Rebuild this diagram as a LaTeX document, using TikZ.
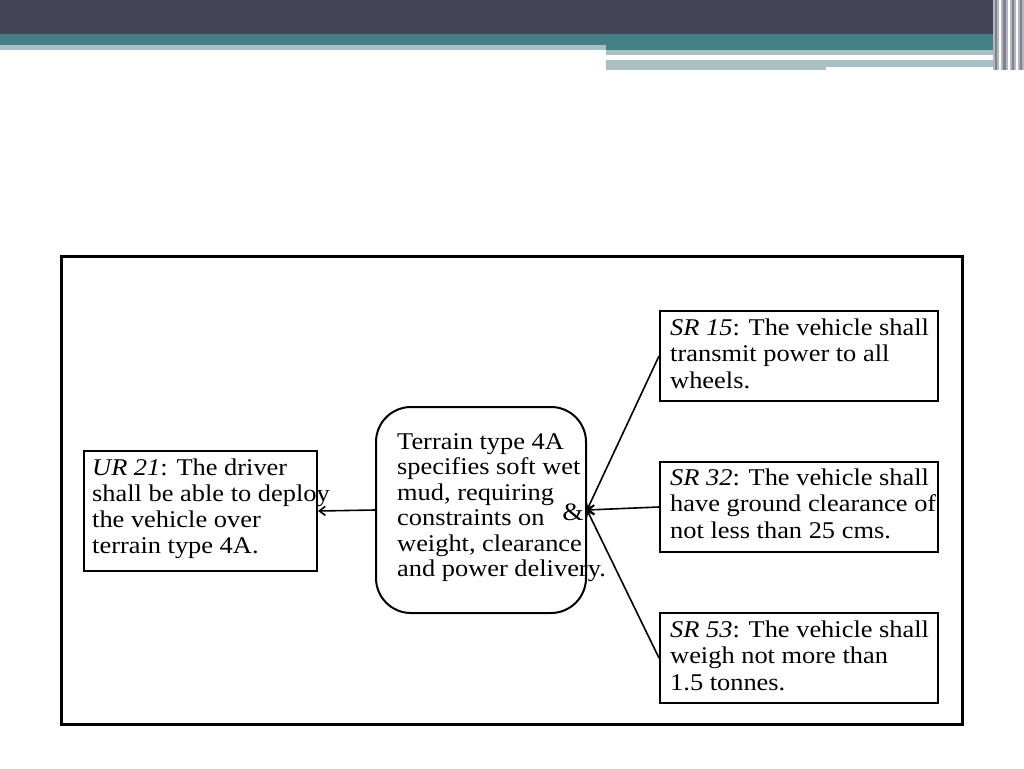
\documentclass[tikz,border=0pt]{standalone}
\usepackage{fontspec}
\newfontfamily\rf[FakeStretch=1.1]{Liberation Serif}
\usetikzlibrary{arrows.meta}
\definecolor{bandDark}{HTML}{434457}
\definecolor{bandTeal}{HTML}{437F85}
\definecolor{bandLight}{HTML}{A9C0C3}
\definecolor{stripeGray}{HTML}{B4B7C0}
\definecolor{stripeDark}{HTML}{7E8190}
\tikzset{
  box/.style={draw, line width=2pt, inner sep=0pt, anchor=north west},
  rbox/.style={draw, line width=2pt, inner sep=0pt, anchor=north west, rounded corners=35pt},
  tx/.style={anchor=base west, inner sep=0pt},
  link/.style={line width=1.6pt, -{Straight Barb[length=6pt,width=9pt]}},
}
\newcommand{\txa}{\rf\fontsize{24}{26}\selectfont}
\newcommand{\txb}{\rf\fontsize{24}{25.5}\selectfont}
\newcommand{\txc}{\rf\fontsize{24}{26.5}\selectfont}
\begin{document}
\begin{tikzpicture}[x=1pt,y=-1pt]
\useasboundingbox (0,0) rectangle (1024,768);
\fill[white] (0,0) rectangle (1024,768);
% banner
\fill[bandDark] (0,0) rectangle (1024,34);
\fill[bandTeal] (0,34) rectangle (1000,45);
\fill[bandLight] (0,45) rectangle (606,50);
\fill[bandTeal] (606,45) rectangle (1000,50.5);
\fill[bandLight] (606,50.5) rectangle (1000,55.5);
\fill[bandLight] (606,59.5) rectangle (826,70);
\fill[bandLight] (826,59.5) rectangle (1005,66.5);
\fill[stripeGray] (993,0) rectangle (1024,70);
\fill[stripeDark] (995,0) rectangle (997,70);
\fill[white] (999,0) rectangle (1001,70);
\fill[stripeDark] (1003,0) rectangle (1006,70);
\fill[white] (1008,0) rectangle (1010,70);
\fill[stripeDark] (1012,0) rectangle (1014,70);
\fill[white] (1016,0) rectangle (1018,70);
\fill[stripeDark] (1020,0) rectangle (1022,70);
% frame
\draw[line width=3pt] (61,256) rectangle (962,724);
% boxes
\node[box, minimum width=233pt, minimum height=120pt] (ur) at (83,450) {};
\node[rbox, minimum width=210pt, minimum height=206pt] (c) at (375,406) {};
\node[box, minimum width=278pt, minimum height=90pt] (sra) at (659,310) {};
\node[box, minimum width=278pt, minimum height=90pt] (srb) at (659,461) {};
\node[box, minimum width=278pt, minimum height=90pt] (src) at (659,612) {};
% texts
\node[tx] (urt) at (92,475) {\txa\parbox[t]{300pt}{\raggedright\textit{UR 21}: The driver\\shall be able to deploy\\the vehicle over\\terrain type 4A.}};
\node[tx] (ct) at (397,449) {\txb\parbox[t]{300pt}{\raggedright Terrain type 4A\\specifies soft wet\\mud, requiring\\constraints on\\weight, clearance\\and power delivery.}};
\node[tx] (srat) at (670,335) {\txc\parbox[t]{300pt}{\raggedright\textit{SR 15}: The vehicle shall\\transmit power to all\\wheels.}};
\node[tx] (srbt) at (670,485) {\txc\parbox[t]{300pt}{\raggedright\textit{SR 32}: The vehicle shall\\have ground clearance of\\not less than 25 cms.}};
\node[tx] (srct) at (670,637) {\txc\parbox[t]{300pt}{\raggedright\textit{SR 53}: The vehicle shall\\weigh not more than\\1.5 tonnes.}};
\node[inner sep=0pt, font=\rf\fontsize{25}{25}\selectfont] (amp) at (573,512) {\&};
% connectors
\draw[link] (c.west) -- (ur.east);
\draw[link] (sra.west) -- (c.east);
\draw[link] (srb.west) -- (c.east);
\draw[link] (src.west) -- (c.east);
\end{tikzpicture}
\end{document}
